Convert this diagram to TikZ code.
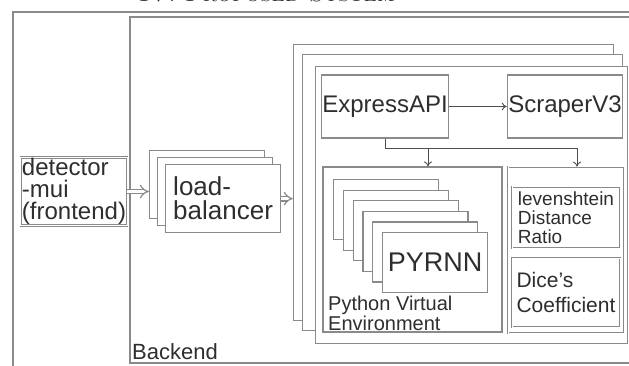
\documentclass[tikz,border=0pt]{standalone}
\usepackage{fontspec}
\setsansfont{Liberation Sans}
\usetikzlibrary{arrows.meta}

\definecolor{linegray}{HTML}{8A8A8A}
\definecolor{textgray}{HTML}{2E2E2E}

\tikzset{
    frame/.style={draw=linegray, line width=1.2pt, fill=white},
    dframe/.style={frame, double=white, double distance=1pt, line width=0.8pt},
    block/.style={frame, inner sep=1pt, align=left, text=textgray, font=\sffamily},
    hollowarrow/.style={draw=linegray, double=white, double distance=3.5pt, line width=1.2pt, -{Implies[length=5pt]}},
    thinarrow/.style={draw=textgray!85, line width=0.9pt, -{To[length=5pt,width=8pt]}},
}
\newcommand{\fsize}[2]{\fontsize{#1}{#2}\selectfont}

\begin{document}
\begin{tikzpicture}[x=1pt, y=-1pt]
            \useasboundingbox (0,0) rectangle (629,366);
            \clip (0,0) rectangle (629,366);

            % heading, cut off by the page
            \node[anchor=south, inner sep=0pt, font=\scshape\fsize{24}{26}, text=textgray] (title) at (267,2) {IV. Proposed System};

            \draw[frame, line width=1.6pt] (13,12) rectangle (700,420);
            \draw[frame, line width=1.6pt] (130,17) rectangle (700,363);
            \node[anchor=south west, inner sep=1pt, font=\sffamily\fsize{22}{24}, text=textgray] (backend) at (131,361) {Backend};

            \node[block, dframe, font=\sffamily\fsize{24}{22}, minimum width=104pt, minimum height=67pt] (detector) at (74,191.5) {detector\\-mui\\(frontend)};

            % load balancer stack
            \foreach \x/\y/\n in {149/150/lbA, 157/157/lbB} {
                \node[frame, minimum width=115pt, minimum height=68pt, anchor=north west] (\n) at (\x,\y) {};
            }
            \node[block, font=\sffamily\fsize{26}{24}, minimum width=115pt, minimum height=68pt, anchor=north west] (lb) at (165,164) {load-\\balancer};

            % server instances
            \node[frame, minimum width=320pt, minimum height=276pt, anchor=north west] (inst1) at (293,44) {};
            \node[frame, minimum width=320pt, minimum height=276pt, anchor=north west] (inst2) at (302,54) {};
            \node[frame, minimum width=312pt, minimum height=277pt, anchor=north west] (inst3) at (315,66) {};

            \draw[hollowarrow] (detector.east) -- (detector.east -| lbA.west);
            \draw[hollowarrow] (lb.east) -- (lb.east -| inst1.west);

            \node[block, font=\sffamily\fsize{24}{26}, minimum width=126pt, minimum height=63pt] (express) at (385,106.5) {ExpressAPI};
            \node[block, font=\sffamily\fsize{24}{26}, minimum width=114pt, minimum height=63pt] (scraper) at (565,106.5) {ScraperV3};
            \draw[thinarrow] (express) -- (scraper);

            \node[frame, minimum width=179pt, minimum height=165pt] (pyenv) at (412.5,249.5) {};
            \node[dframe, minimum width=116pt, minimum height=166pt] (scorer) at (566,250) {};

            \coordinate (envin) at ([xshift=15.5pt]pyenv.north);
            \coordinate (scorein) at ([xshift=11pt]scorer.north);
            \draw[thinarrow] (express.south) -- ++(0,10) coordinate (bus) -| (scorein);
            \draw[thinarrow] (bus -| envin) -- (envin);

            % model copies
            \foreach \i in {0,...,4} {
                \node[frame, minimum width=105pt, minimum height=60pt, anchor=north west] (rnn\i) at ({333+9.8*\i},{179+10.6*\i}) {};
            }
            \node[block, font=\sffamily\fsize{27}{29}, minimum width=105pt, minimum height=60pt, anchor=north west] (pyrnn) at (382,232) {PYRNN};
            \node[anchor=south west, inner sep=1pt, align=left, font=\sffamily\fsize{20}{17}, text=textgray] (pyenvlabel) at (327,332) {Python Virtual\\Environment};

            \node[block, dframe, font=\sffamily\fsize{19}{19}, minimum width=108pt, minimum height=61pt] (lev) at (566,217.5) {levenshtein\\Distance\\Ratio};
            \node[block, dframe, font=\sffamily\fsize{21}{25}, minimum width=108pt, minimum height=69pt] (dice) at (566,292.5) {Dice's\\Coefficient};
\end{tikzpicture}
\end{document}
